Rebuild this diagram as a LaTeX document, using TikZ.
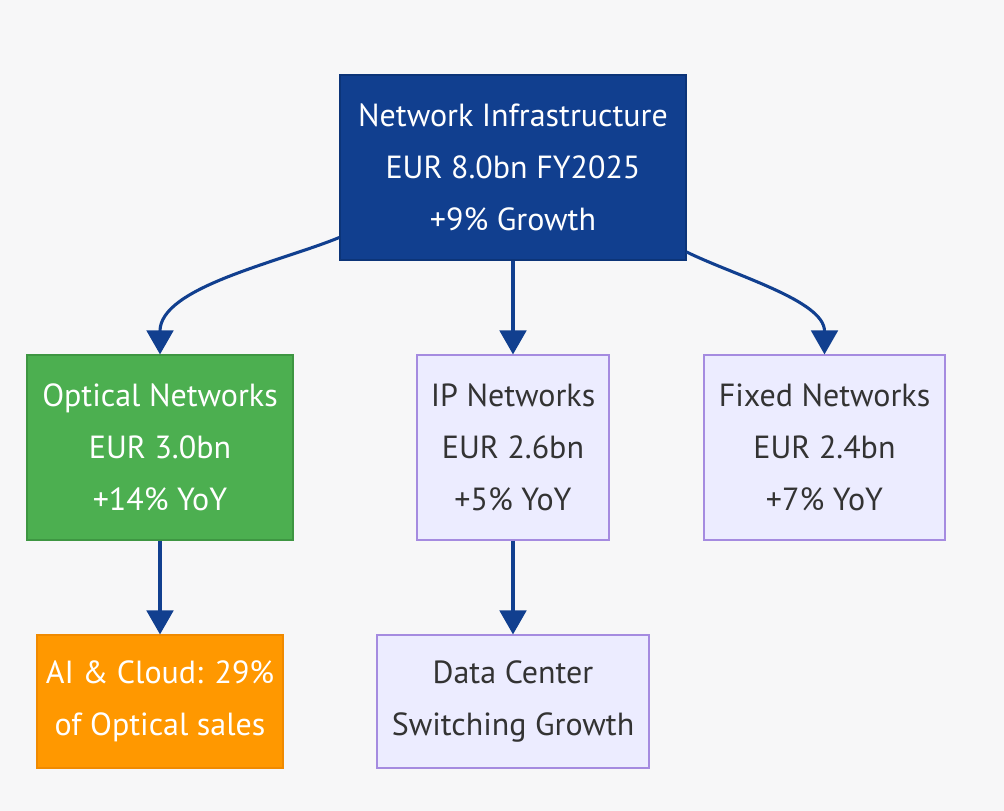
\documentclass[tikz,border=0pt]{standalone}
\usepackage{fontspec}
\setmainfont{PT Sans}
\usetikzlibrary{arrows.meta}
\definecolor{navy700}{HTML}{113F8F}
\definecolor{navy900}{HTML}{0C3478}
\definecolor{green500}{HTML}{4CAF50}
\definecolor{green700}{HTML}{3E9642}
\definecolor{orange500}{HTML}{FF9800}
\definecolor{orange700}{HTML}{F08A00}
\definecolor{lavender}{HTML}{ECECFF}
\definecolor{purple400}{HTML}{A58BE0}
\definecolor{gray800}{HTML}{333333}
\definecolor{paper}{HTML}{F7F7F8}
\tikzstyle{block}=[rectangle, align=center, font=\fontsize{24}{39}\selectfont, line width=0.9pt, inner sep=0pt]
\tikzstyle{main}=[block, fill=navy700, draw=navy900, text=white]
\tikzstyle{optical}=[block, fill=green500, draw=green700, text=white]
\tikzstyle{cloud}=[block, fill=orange500, draw=orange700, text=white]
\tikzstyle{plain}=[block, fill=lavender, draw=purple400, text=gray800]
\tikzstyle{link}=[draw=navy700, line width=2.3pt, -{Triangle[length=18pt,width=20pt]}]

\begin{document}
\begin{tikzpicture}[x=0.75pt, y=-0.75pt]
	\fill[paper] (0,0) rectangle (1004,811);
	\useasboundingbox (0,0) rectangle (1004,811);
	\node[main, minimum width=259.5pt, minimum height=138.75pt] (infra) at (513,167.5) {Network Infrastructure\\EUR 8.0bn FY2025\\+9\% Growth};
	\node[optical, minimum width=199.5pt, minimum height=138.75pt] (opt) at (160,447.5) {Optical Networks\\EUR 3.0bn\\+14\% YoY};
	\node[plain, minimum width=144pt, minimum height=138.75pt] (ip) at (513,447.5) {IP Networks\\EUR 2.6bn\\+5\% YoY};
	\node[plain, minimum width=180.75pt, minimum height=138.75pt] (fixed) at (824.5,447.5) {Fixed Networks\\EUR 2.4bn\\+7\% YoY};
	\node[cloud, minimum width=184.5pt, minimum height=99.75pt] (ai) at (160,701.5) {AI \& Cloud: 29\%\\of Optical sales};
	\node[plain, minimum width=204pt, minimum height=99.75pt] (dc) at (513,701.5) {Data Center\\Switching Growth};
	\path[link] (infra) to[out=202, in=90, looseness=0.8] (opt);
	\path[link] (infra) -- (ip);
	\path[link] (infra) to[out=-26, in=90, looseness=0.8] (fixed);
	\path[link] (opt) -- (ai);
	\path[link] (ip) -- (dc);
\end{tikzpicture}
\end{document}
